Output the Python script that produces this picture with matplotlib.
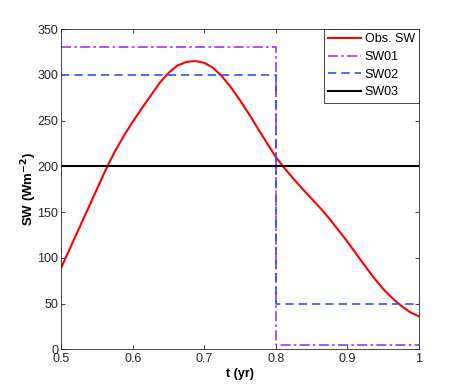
import numpy as np
import matplotlib
matplotlib.use("Agg")
import matplotlib.pyplot as plt

plt.rcParams['font.family'] = ['Liberation Sans', 'DejaVu Sans']

obs_t = [0.500, 0.5125, 0.525, 0.5375, 0.550, 0.5625, 0.575, 0.5875, 0.600, 0.6125,
         0.625, 0.6375, 0.650, 0.6625, 0.675, 0.6875, 0.700, 0.7125, 0.725, 0.7375,
         0.750, 0.7625, 0.775, 0.7875, 0.800, 0.8125, 0.825, 0.8375, 0.850, 0.8625,
         0.875, 0.8875, 0.900, 0.9125, 0.925, 0.9375, 0.950, 0.9625, 0.975, 0.9875, 1.000]
obs_sw = [89, 110.5, 132, 153.5, 175, 196.5, 216, 233, 248.5, 263,
          277, 291, 302, 310, 314, 315, 313, 307.5, 298, 286,
          272, 257, 241, 225.5, 210, 197.5, 186, 175, 164.5, 154,
          142.5, 130, 117.5, 104, 90.5, 77.5, 66, 56, 47.5, 40.5, 36]

# Step scenarios
step_t = [0.5, 0.8, 0.8, 1.0]
sw01 = [330, 330, 5, 5]
sw02 = [300, 300, 50, 50]
sw03_t = [0.5, 1.0]
sw03 = [200, 200]

fig = plt.figure(figsize=(4.63, 3.92), dpi=100)
ax = fig.add_axes([0.132, 0.109, 0.773, 0.817])

ax.plot(obs_t, obs_sw, color='#ff0000', lw=1.5, label='Obs. SW')
ax.plot(step_t, sw01, color='#a033ff', lw=1.2, ls='-.', label='SW01', dashes=(6, 2, 1.5, 2))
ax.plot(step_t, sw02, color='#2f4fff', lw=1.2, ls='--', label='SW02', dashes=(5, 3))
ax.plot(sw03_t, sw03, color='#000000', lw=1.5, label='SW03')

ax.set_xlim(0.5, 1.0)
ax.set_ylim(0, 350)
ax.set_xticks([0.5, 0.6, 0.7, 0.8, 0.9, 1.0])
ax.set_xticklabels(['0.5', '0.6', '0.7', '0.8', '0.9', '1'])
ax.set_yticks(range(0, 351, 50))
ax.tick_params(direction='in', top=True, right=True, labelsize=9, length=3, width=0.6,
               colors='#262626', pad=2)
ax.tick_params(axis='x', pad=3)
for s in ax.spines.values():
    s.set_linewidth(0.6)
    s.set_color('#262626')

ax.set_xlabel('t (yr)', fontsize=9, fontweight='bold', labelpad=2)
ax.set_ylabel(r'SW (Wm$^{\mathbf{-2}}$)', fontsize=9.5, fontweight='bold', labelpad=-1)

leg = ax.legend(loc='upper right', borderaxespad=0, fontsize=9, fancybox=False,
                framealpha=1, edgecolor='#262626', handlelength=2.6, handletextpad=0.3,
                labelspacing=0.45, borderpad=0.35)
leg.get_frame().set_linewidth(0.6)

fig.savefig('out.png', dpi=100)
